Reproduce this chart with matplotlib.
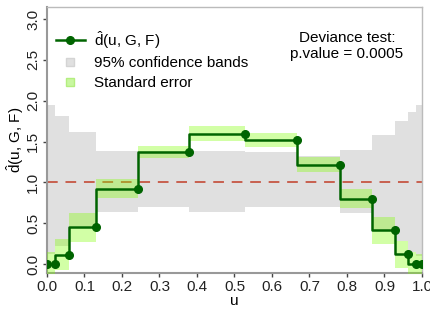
import matplotlib
matplotlib.use("Agg")
import matplotlib.pyplot as plt
from matplotlib.lines import Line2D
import numpy as np

plt.rcParams['font.family'] = ['Liberation Sans', 'DejaVu Sans']
plt.rcParams['mathtext.fontset'] = 'custom'
plt.rcParams['mathtext.rm'] = 'Liberation Sans'

# bin edges on the u scale (dots sit at the right edge of each bin)
u_edges = [0.0, 0.021, 0.06, 0.132, 0.243, 0.38, 0.528, 0.667, 0.782, 0.868, 0.927, 0.963, 0.985, 1.0]
# estimated relative density at each edge (first one is the start at u = 0)
d_hat = [0.0, 0.0, 0.11, 0.45, 0.92, 1.37, 1.595, 1.52, 1.215, 0.80, 0.41, 0.12, 0.0, 0.0]
# 95% confidence bands per bin
band_lo = [0.12, 0.22, 0.46, 0.64, 0.70, 0.64, 0.70, 0.70, 0.62, 0.42, 0.28, 0.15, 0.10]
band_hi = [1.95, 1.81, 1.62, 1.39, 1.39, 1.39, 1.37, 1.32, 1.40, 1.58, 1.75, 1.86, 1.95]
# standard error half-widths per bin
se = [0.15, 0.19, 0.18, 0.115, 0.075, 0.09, 0.09, 0.09, 0.115, 0.17, 0.165, 0.15, 0.12]
p_value = 0.0005

u = np.array(u_edges)
d = np.array(d_hat)
d_bin = d[1:]
se = np.array(se)

fig = plt.figure(figsize=(4.31, 3.13), dpi=100)
ax = fig.add_axes([0.109, 0.128, 0.870, 0.850])

# grey confidence bands
ax.fill_between(u, np.append(band_lo, band_lo[-1]), np.append(band_hi, band_hi[-1]),
                step='post', color='#e0e0e0', lw=0, zorder=1)

# reference line at 1
ax.axhline(1.0, color='#c8604f', lw=1.4, ls=(0, (5.5, 4)), zorder=2)

# standard error bands
se_lo = d_bin - se
se_hi = d_bin + se
ax.fill_between(u, np.append(se_lo, se_lo[-1]), np.append(se_hi, se_hi[-1]),
                step='post', color='#7fff00', alpha=0.35, lw=0, zorder=3)

# step function
ax.plot(u, d, drawstyle='steps-pre', color='#006400', lw=1.8, zorder=4)
ax.plot(u, d, 'o', color='#006400', ms=5.5, zorder=5)

ax.set_xlim(0, 1)
ax.set_ylim(-0.11, 3.15)
ax.set_xticks(np.arange(0, 1.01, 0.1))
ax.set_xticklabels([f'{t:.1f}' for t in np.arange(0, 1.01, 0.1)])
ax.set_yticks(np.arange(0, 3.01, 0.5))
ax.set_yticklabels([f'{t:.1f}' for t in np.arange(0, 3.01, 0.5)], rotation=90, va='center')
ax.tick_params(labelsize=11, colors='#444444', labelcolor='#222222', length=3, width=1, pad=2)

for s in ['top', 'right']:
    ax.spines[s].set_color('#bbbbbb')
    ax.spines[s].set_linewidth(1)
for s in ['left', 'bottom']:
    ax.spines[s].set_color('#999999')
    ax.spines[s].set_linewidth(1.5)

ax.set_xlabel('u', fontsize=11, labelpad=0)
ax.set_ylabel(r'$\hat{\mathrm{d}}$(u, G, F)', fontsize=11, labelpad=0)

handles = [
    Line2D([0], [0], color='#006400', lw=1.8, marker='o', ms=5.5),
    Line2D([0], [0], ls='none', marker='s', ms=6, mfc='#e0e0e0', mec='#d4d4d4'),
    Line2D([0], [0], ls='none', marker='s', ms=6, mfc='#c8f7a0', mec='#b4ee80'),
]
labels = [r'$\hat{\mathrm{d}}$(u, G, F)', '95% confidence bands', 'Standard error']
ax.legend(handles, labels, loc='upper left', bbox_to_anchor=(-0.005, 0.958), frameon=False,
          fontsize=11, handlelength=1.9, labelspacing=0.38,
          handletextpad=0.6, borderaxespad=0.3)

ax.text(0.8, 0.91, 'Deviance test:\np.value = ' + str(p_value), transform=ax.transAxes,
        ha='center', va='top', fontsize=11, linespacing=1.2)

fig.savefig('out.png', dpi=100)
